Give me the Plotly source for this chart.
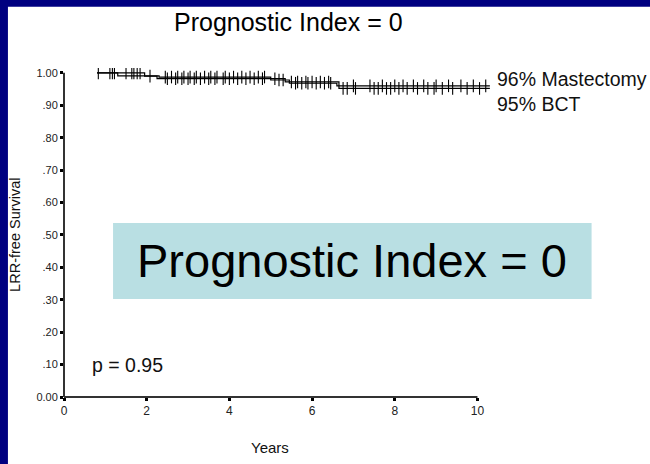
import numpy as np
import plotly.graph_objects as go

# ---------------- data ----------------
mast_times = [0.80, 1.30, 2.30, 5.00, 5.45, 6.60, 10.30]
mast_surv = [1.000, 0.991, 0.987, 0.978, 0.968, 0.960, 0.960]
mast_censor = [0.83, 1.11, 1.17, 1.22, 2.45, 2.60, 2.75, 2.90, 3.05, 3.20, 3.40, 3.55,
               3.70, 3.90, 4.10, 4.30, 4.50, 4.70, 4.85, 5.20, 5.30, 5.60, 5.75, 5.90,
               6.10, 6.30, 6.45, 7.00, 7.40, 7.70, 8.00, 8.20, 8.45, 8.70, 9.00, 9.30,
               9.60, 9.90, 10.20]

bct_times = [0.80, 1.95, 2.25, 5.35, 6.65, 10.30]
bct_surv = [1.000, 0.990, 0.982, 0.972, 0.952, 0.952]
bct_censor = [1.50, 1.64, 1.69, 1.77, 1.84, 2.08, 2.50, 2.70, 2.85, 3.00, 3.15, 3.30,
              3.50, 3.65, 3.85, 4.00, 4.20, 4.40, 4.60, 4.80, 5.10, 5.50, 5.65, 5.85,
              6.00, 6.20, 6.40, 6.75, 6.85, 7.05, 7.50, 7.60, 7.80, 7.90, 8.10, 8.30,
              8.55, 8.80, 8.95, 9.15, 9.40, 9.75, 10.05]

x_ticks = [0, 2, 4, 6, 8, 10]
y_ticks = [0.0, 0.1, 0.2, 0.3, 0.4, 0.5, 0.6, 0.7, 0.8, 0.9, 1.0]
y_ticktext = ["0.00", ".10", ".20", ".30", ".40", ".50", ".60", ".70", ".80", ".90", "1.00"]

title_text = "Prognostic Index = 0"
box_text = "Prognostic Index = 0"
label_mast = "96% Mastectomy"
label_bct = "95% BCT"
p_text = "p = 0.95"
x_title = "Years"
y_title = "LRR-free Survival"

# ---------------- layout geometry ----------------
W_FIG, H_FIG = 650, 464
X0_PX, X10_PX = 64, 477
Y0_PX, Y1_PX = 397, 73
XMAX = 10.4
YMAX = 1.015
px_per_x = (X10_PX - X0_PX) / 10.0
px_per_y = (Y0_PX - Y1_PX) / 1.0
L = X0_PX
PW = XMAX * px_per_x
PH = YMAX * px_per_y
T = Y0_PX - PH
R = W_FIG - (L + PW)
B = H_FIG - Y0_PX


def pxx(p):
    return (p - L) / PW


def pxy(p):
    return (Y0_PX - p) / PH


FONT = "Liberation Sans, Arial, Helvetica, sans-serif"


def step_value(times, surv, t):
    i = np.searchsorted(np.array(times), t, side="right") - 1
    i = max(i, 0)
    return surv[i]


fig = go.Figure()

for times, surv, cens in [(mast_times, mast_surv, mast_censor), (bct_times, bct_surv, bct_censor)]:
    fig.add_trace(go.Scatter(x=times, y=surv, mode="lines", line=dict(color="black", width=1.2, shape="hv"),
                             showlegend=False, hoverinfo="skip"))
    cy = [step_value(times, surv, t) for t in cens]
    fig.add_trace(go.Scatter(x=cens, y=cy, mode="markers",
                             marker=dict(symbol="line-ns", size=9, line=dict(color="black", width=1.1)),
                             showlegend=False, hoverinfo="skip"))

shapes = [
    # navy border bands
    dict(type="rect", xref="paper", yref="paper", x0=pxx(0), x1=pxx(W_FIG), y0=pxy(0), y1=pxy(7),
         fillcolor="#000080", line=dict(width=0), layer="above"),
    dict(type="rect", xref="paper", yref="paper", x0=pxx(0), x1=pxx(8), y0=pxy(0), y1=pxy(H_FIG),
         fillcolor="#000080", line=dict(width=0), layer="above"),
    # light blue box
    dict(type="rect", xref="paper", yref="paper", x0=pxx(113), x1=pxx(591), y0=pxy(223), y1=pxy(299),
         fillcolor="#B9DFE3", line=dict(width=0), layer="below"),
    # axis lines
    dict(type="line", xref="paper", yref="paper", x0=0, x1=10 / XMAX, y0=0, y1=0,
         line=dict(color="#333333", width=2)),
    dict(type="line", xref="paper", yref="paper", x0=0, x1=0, y0=0, y1=1.0 / YMAX,
         line=dict(color="#333333", width=2)),
]

annotations = [
    dict(text=title_text, x=pxx(288), y=pxy(22), font=dict(size=25, color="black")),
    dict(text=box_text, x=pxx(352), y=pxy(261), font=dict(size=47, color="black")),
    dict(text=label_mast, x=pxx(495), y=pxy(79), xanchor="left", font=dict(size=19.5, color="#111111")),
    dict(text=label_bct, x=pxx(495), y=pxy(104), xanchor="left", font=dict(size=19.5, color="#111111")),
    dict(text=p_text, x=pxx(90), y=pxy(365), xanchor="left", font=dict(size=19.5, color="#111111")),
    dict(text=x_title, x=pxx(270), y=pxy(447), font=dict(size=15, color="#111111")),
    dict(text=y_title, x=pxx(15), y=pxy(235), textangle=-90, font=dict(size=14.5, color="#111111")),
]
for a in annotations:
    a.update(xref="paper", yref="paper", showarrow=False)
    a.setdefault("xanchor", "center")
    a.setdefault("yanchor", "middle")

fig.update_layout(
    width=W_FIG, height=H_FIG,
    margin=dict(l=L, r=R, t=T, b=B, autoexpand=False),
    paper_bgcolor="white", plot_bgcolor="rgba(0,0,0,0)",
    font=dict(family=FONT, color="#111111"),
    shapes=shapes, annotations=annotations, showlegend=False,
    xaxis=dict(range=[0, XMAX], tickvals=x_ticks, ticktext=[str(v) for v in x_ticks],
               showgrid=False, zeroline=False, showline=False,
               ticks="outside", ticklen=3, tickwidth=3, tickcolor="black",
               tickfont=dict(size=12, color="#222222")),
    yaxis=dict(range=[0, YMAX], tickvals=y_ticks, ticktext=y_ticktext,
               showgrid=False, zeroline=False, showline=False,
               ticks="outside", ticklen=3, tickwidth=3, tickcolor="black",
               tickfont=dict(size=11, color="#222222")),
)

fig.write_html("out.html")
